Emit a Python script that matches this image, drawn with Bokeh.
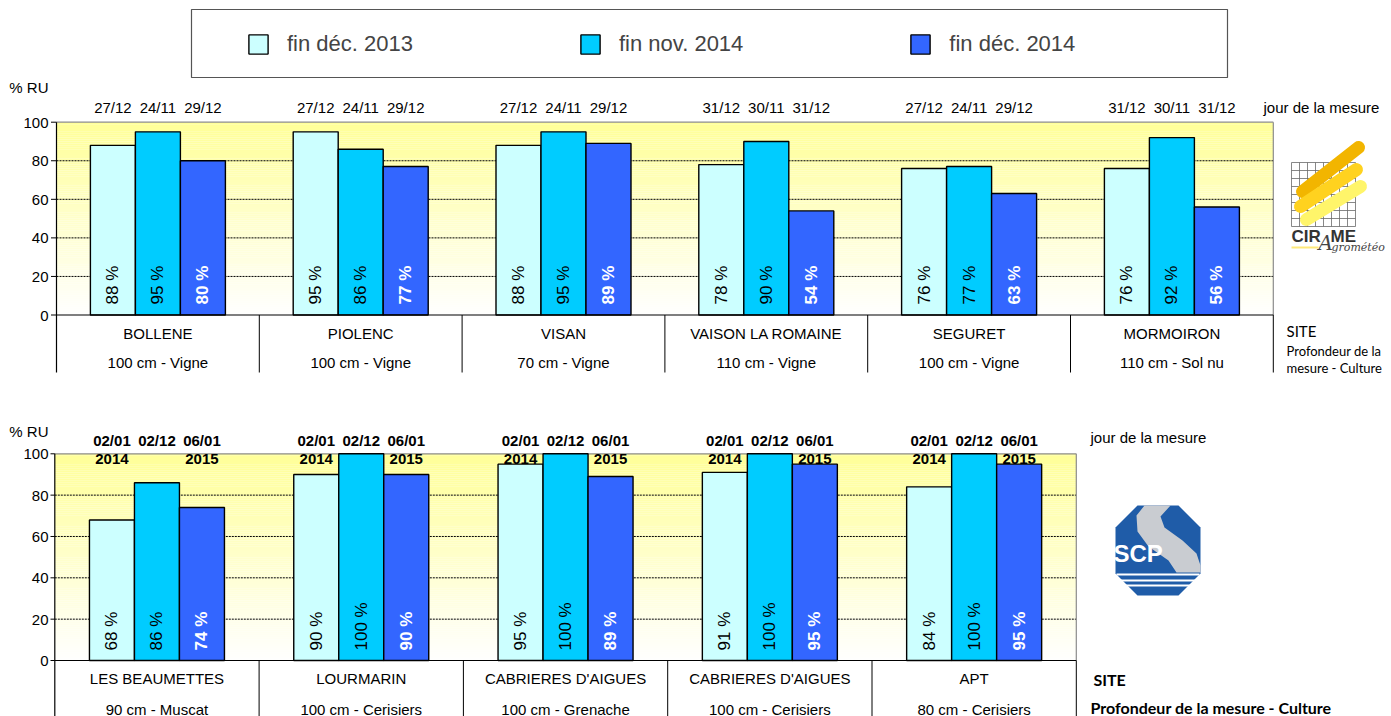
import numpy as np
from bokeh.plotting import figure
from bokeh.layouts import column
from bokeh.models import Range1d, FixedTicker, ColumnDataSource, Legend, LegendItem
from bokeh.transform import dodge
from bokeh.core.properties import value
from bokeh.embed import file_html
from bokeh.resources import INLINE

# ---------------- data ----------------
series = ["fin déc. 2013", "fin nov. 2014", "fin déc. 2014"]
colors = ["#CCFFFF", "#00CCFF", "#3366FF"]
yticks = [0, 20, 40, 60, 80, 100]

top_sites = ["BOLLENE", "PIOLENC", "VISAN", "VAISON LA ROMAINE", "SEGURET", "MORMOIRON"]
top_details = ["100 cm - Vigne", "100 cm - Vigne", "70 cm - Vigne", "110 cm - Vigne",
               "100 cm - Vigne", "110 cm - Sol nu"]
top_dec13 = [88, 95, 88, 78, 76, 76]
top_nov14 = [95, 86, 95, 90, 77, 92]
top_dec14 = [80, 77, 89, 54, 63, 56]
top_date_dec13 = ["27/12", "27/12", "27/12", "31/12", "27/12", "31/12"]
top_date_nov14 = ["24/11", "24/11", "24/11", "30/11", "24/11", "30/11"]
top_date_dec14 = ["29/12", "29/12", "29/12", "31/12", "29/12", "31/12"]

bot_sites = ["LES BEAUMETTES", "LOURMARIN", "CABRIERES D'AIGUES", "CABRIERES D'AIGUES", "APT"]
bot_details = ["90 cm - Muscat", "100 cm - Cerisiers", "100 cm - Grenache",
               "100 cm - Cerisiers", "80 cm - Cerisiers"]
bot_dec13 = [68, 90, 95, 91, 84]
bot_nov14 = [86, 100, 100, 100, 100]
bot_dec14 = [74, 90, 89, 95, 95]
bot_date_dec13 = ["02/01", "02/01", "02/01", "02/01", "02/01"]
bot_date_nov14 = ["02/12", "02/12", "02/12", "02/12", "02/12"]
bot_date_dec14 = ["06/01", "06/01", "06/01", "06/01", "06/01"]
bot_year_dec13 = ["2014", "2014", "2014", "2014", "2014"]
bot_year_dec14 = ["2015", "2015", "2015", "2015", "2015"]

FONT = value("Liberation Sans")
FONT2 = value("Lato")
PAGE_RIGHT = 1391


def make_chart(sites, details, vals, dates, geo, years=None, bold_top=False):
    page_top, page_bot = geo["page_top"], geo["page_bot"]
    x0p, sx, y0p, sy, fl = geo["x0p"], geo["sx"], geo["y0p"], geo["sy"], geo["frame_left"]

    def X(px):
        return (px - x0p) / sx

    def Y(py):
        return (y0p - py) / sy

    p = figure(width=PAGE_RIGHT, height=page_bot - page_top,
               x_range=Range1d(X(fl), X(PAGE_RIGHT)),
               y_range=Range1d(Y(page_bot), Y(page_top)),
               x_axis_location=None, toolbar_location=None, output_backend="svg",
               min_border_left=fl, min_border_right=0, min_border_top=0,
               min_border_bottom=0, title=None)
    p.outline_line_color = None
    p.grid.visible = False
    p.background_fill_color = "white"
    p.border_fill_color = "white"

    ru_tick = geo["ru_tick"]
    ax = p.yaxis[0]
    ax.ticker = FixedTicker(ticks=yticks + [ru_tick])
    ax.major_label_overrides = {ru_tick: "% RU"}
    ax.major_tick_out = 0
    ax.major_tick_in = 0
    ax.minor_tick_out = 0
    ax.minor_tick_in = 0
    ax.axis_line_color = None
    ax.major_tick_line_color = None
    ax.major_label_text_font = "Liberation Sans"
    ax.major_label_text_font_size = "15px"
    ax.major_label_text_color = "black"
    ax.major_label_standoff = 2

    n = len(sites)
    # gradient background (styling only)
    ks = np.arange(100)
    grad = ["#%02x%02x%02x" % (255, 255, int(round(255 - (k + 0.5) / 100 * 104))) for k in ks]
    p.quad(left=0, right=n, bottom=ks, top=ks + 1, fill_color=grad, line_color=None)

    p.segment(x0=0, x1=n, y0=yticks[1:-1], y1=yticks[1:-1], line_color="black",
              line_width=1, line_dash="2 1")
    p.segment(x0=0, x1=n, y0=100, y1=100, line_color="#8c8c8c", line_width=1.2)
    p.segment(x0=n, x1=n, y0=0, y1=100, line_color="#8c8c8c", line_width=1.2)

    xs = [i + 0.5 for i in range(n)]
    bw = 45.0 / sx
    offs = [-bw, 0.0, bw]
    renderers = []
    for k in range(3):
        src = ColumnDataSource(dict(x=xs, top=vals[k], lbl=["%d %%" % v for v in vals[k]],
                                    date=dates[k]))
        r = p.vbar(x=dodge("x", offs[k], range=p.x_range), top="top", bottom=0, width=bw,
                   fill_color=colors[k], line_color="black", line_width=1.4, source=src)
        renderers.append(r)
        p.text(x=dodge("x", offs[k], range=p.x_range), y=Y(geo["lbl_start"]), text="lbl",
               angle=np.pi / 2, text_align="left", text_baseline="middle",
               text_font=FONT, text_font_size="17px",
               text_color="white" if k == 2 else "black",
               text_font_style="bold" if k == 2 else "normal", source=src)
        p.text(x=dodge("x", offs[k], range=p.x_range), y=Y(geo["date_y"]), text="date",
               text_align="center", text_baseline="middle", text_font=FONT,
               text_font_size="15px", text_font_style="bold" if bold_top else "normal",
               source=src)
    if years is not None:
        for k, yl in years.items():
            ysrc = ColumnDataSource(dict(x=xs, yr=yl))
            p.text(x=dodge("x", offs[k], range=p.x_range), y=Y(geo["year_y"]), text="yr",
                   text_align="center", text_baseline="middle", text_font=FONT,
                   text_font_size="15px", text_font_style="bold", source=ysrc)

    # axis line, ticks, baseline and category separators
    p.segment(x0=X(x0p - 5.5), x1=0, y0=yticks, y1=yticks, line_color="black", line_width=1)
    p.segment(x0=0, x1=0, y0=Y(geo["sep_end"]), y1=100, line_color="black", line_width=1.2)
    p.segment(x0=0, x1=n, y0=0, y1=0, line_color="black", line_width=1.2)
    seps = list(range(1, n + 1))
    p.segment(x0=seps, x1=seps, y0=0, y1=Y(geo["sep_end"]), line_color="black", line_width=1)
    csrc = ColumnDataSource(dict(x=xs, site=sites, det=details))
    p.text(x="x", y=Y(geo["row1"]), text="site", text_align="center", text_baseline="middle",
           text_font=FONT, text_font_size="15px", source=csrc)
    p.text(x="x", y=Y(geo["row2"]), text="det", text_align="center", text_baseline="middle",
           text_font=FONT, text_font_size="15px", source=csrc)
    return p, X, Y, renderers


# ---------------- top chart ----------------
geo_top = dict(page_top=0, page_bot=388, x0p=56, sx=202.8, y0p=314.5, sy=1.928, frame_left=50,
               lbl_start=304, date_y=106.5, sep_end=372, row1=333, row2=362, ru_tick=118)
top, X1, Y1, rs = make_chart(top_sites, top_details, [top_dec13, top_nov14, top_dec14],
                             [top_date_dec13, top_date_nov14, top_date_dec14], geo_top)

# legend
leg = Legend(items=[LegendItem(label=series[k], renderers=[rs[k]]) for k in range(3)],
             orientation="horizontal", location=(196, 331), spacing=165, glyph_width=24,
             glyph_height=24, label_standoff=17, label_text_font="Liberation Sans",
             label_text_font_size="22px", padding=0, margin=0, border_line_color=None,
             background_fill_alpha=0)
top.add_layout(leg, "center")
top.quad(left=X1(191), right=X1(1227), top=Y1(9), bottom=Y1(77), fill_color=None,
         line_color="#555555", line_width=1.2)

top.text(x=X1(1263), y=Y1(106.5), text=["jour de la mesure"], text_align="left",
         text_baseline="middle", text_font=FONT, text_font_size="15px")
top.text(x=X1(1286), y=Y1(330), text=["SITE"], text_align="left", text_baseline="middle",
         text_font=FONT2, text_font_size="15px")
top.text(x=X1(1286), y=[Y1(350), Y1(367)], text=["Profondeur de la", "mesure - Culture"],
         text_align="left", text_baseline="middle", text_font=FONT2, text_font_size="13px")

# CIRAME logo (decoration)
gx = [1291 + 8 * i for i in range(9)]
gy = [162 + 8 * i for i in range(9)]
top.segment(x0=[X1(v) for v in gx], x1=[X1(v) for v in gx], y0=Y1(162), y1=Y1(226),
            line_color="#6a6a6a", line_width=0.8)
top.segment(x0=X1(1291), x1=X1(1355), y0=[Y1(v) for v in gy], y1=[Y1(v) for v in gy],
            line_color="#6a6a6a", line_width=0.8)
top.segment(x0=[X1(1302), X1(1300), X1(1306)], y0=[Y1(191), Y1(206), Y1(219)],
            x1=[X1(1358), X1(1356), X1(1360)], y1=[Y1(147), Y1(169), Y1(186)],
            line_color=["#F2B500", "#FFD21F", "#FFF56A"], line_width=13, line_cap="round")
top.text(x=X1(1291), y=Y1(236), text=["CIR"], text_align="left", text_baseline="middle",
         text_font=FONT, text_font_size="17px", text_font_style="bold", text_color="#333333")
top.text(x=X1(1330), y=Y1(236), text=["ME"], text_align="left", text_baseline="middle",
         text_font=FONT, text_font_size="17px", text_font_style="bold", text_color="#333333")
top.text(x=X1(1318), y=Y1(242), text=["A"], text_align="left", text_baseline="middle",
         text_font=value("DejaVu Serif"), text_font_size="20px", text_font_style="italic",
         text_color="#444444")
top.text(x=X1(1331), y=Y1(247), text=["grométéo"], text_align="left", text_baseline="middle",
         text_font=value("DejaVu Serif"), text_font_size="11px", text_font_style="italic",
         text_color="#444444")
top.segment(x0=X1(1291), x1=X1(1318), y0=Y1(247), y1=Y1(247), line_color="#FFE97A",
            line_width=2)

# ---------------- bottom chart ----------------
geo_bot = dict(page_top=388, page_bot=716, x0p=54.3, sx=204.3, y0p=660, sy=2.067, frame_left=50,
               lbl_start=650, date_y=440, year_y=458, sep_end=730, row1=678, row2=708.5,
               ru_tick=111)
bot, X2, Y2, rs2 = make_chart(bot_sites, bot_details, [bot_dec13, bot_nov14, bot_dec14],
                              [bot_date_dec13, bot_date_nov14, bot_date_dec14], geo_bot,
                              years={0: bot_year_dec13, 2: bot_year_dec14}, bold_top=True)

bot.text(x=X2(1090), y=Y2(437), text=["jour de la mesure"], text_align="left",
         text_baseline="middle", text_font=FONT, text_font_size="15px")
bot.text(x=X2(1093), y=Y2(679), text=["SITE"], text_align="left", text_baseline="middle",
         text_font=FONT2, text_font_size="16px", text_font_style="bold")
bot.text(x=X2(1090), y=Y2(707), text=["Profondeur de la mesure - Culture"], text_align="left",
         text_baseline="middle", text_font=FONT2, text_font_size="16px", text_font_style="bold")

# SCP logo (decoration)
oct_x = [1137, 1178, 1200, 1200, 1178, 1137, 1115, 1115]
oct_y = [505, 505, 527, 573, 595, 595, 573, 527]
bot.patch(x=[X2(v) for v in oct_x], y=[Y2(v) for v in oct_y], fill_color="#1F5CA8",
          line_color=None)
s_x = [1144, 1170, 1160, 1164, 1182, 1196, 1200, 1200, 1176, 1168, 1148, 1137, 1136]
s_y = [505, 505, 516, 527, 540, 553, 565, 572, 572, 560, 546, 531, 515]
bot.patch(x=[X2(v) for v in s_x], y=[Y2(v) for v in s_y], fill_color="#C9CCD1",
          line_color=None)
bot.segment(x0=X2(1116), x1=X2(1199), y0=[Y2(574), Y2(580), Y2(585)],
            y1=[Y2(574), Y2(580), Y2(585)], line_color="white", line_width=2)
bot.text(x=X2(1113), y=Y2(553), text=["SCP"], text_align="left", text_baseline="middle",
         text_font=FONT, text_font_size="24px", text_font_style="bold",
         text_color="white")

layout = column(top, bot)
open("out.html", "w").write(file_html(layout, INLINE))
